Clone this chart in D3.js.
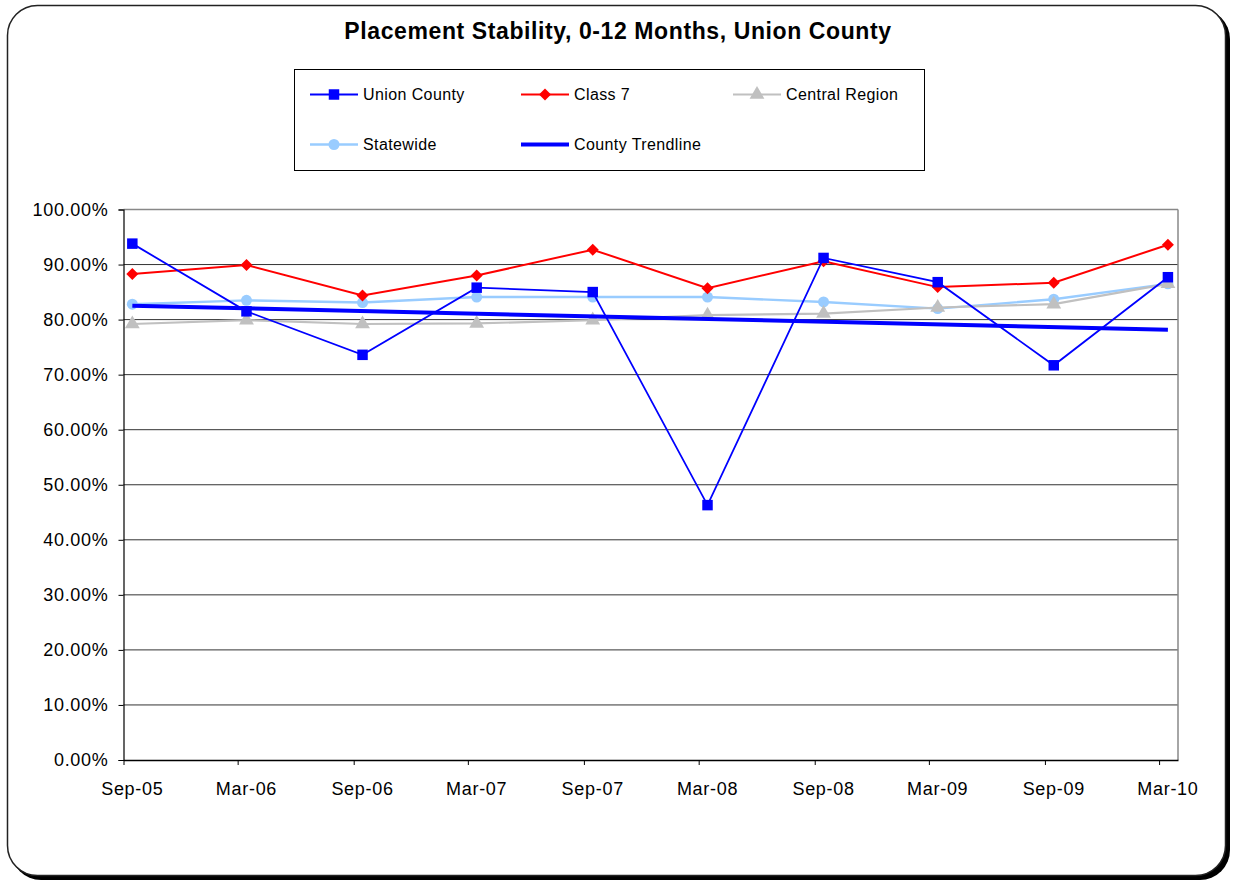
<!DOCTYPE html>
<html>
<head>
<meta charset="utf-8">
<script src="https://cdn.jsdelivr.net/npm/d3@7"></script>
<style>
  body { margin: 0; background: #fff; }
  text { font-family: "Liberation Sans", Arial, sans-serif; }
</style>
</head>
<body>
<div id="chart"></div>
<script>
// period labels and the dates Excel plotted them on (mid-month)
const periods = ["Sep-05", "Mar-06", "Sep-06", "Mar-07", "Sep-07", "Mar-08", "Sep-08", "Mar-09", "Sep-09", "Mar-10"];
const tickDates = ["2005-09-01", "2006-03-01", "2006-09-01", "2007-03-01", "2007-09-01", "2008-03-01", "2008-09-01", "2009-03-01", "2009-09-01", "2010-03-01"];
const pointDates = ["2005-09-15", "2006-03-15", "2006-09-15", "2007-03-15", "2007-09-15", "2008-03-15", "2008-09-15", "2009-03-15", "2009-09-15", "2010-03-15"];

const unionCounty = [93.8, 81.5, 73.6, 85.8, 85.0, 46.3, 91.2, 86.8, 71.7, 87.7];
const class7 = [88.3, 89.9, 84.4, 88.0, 92.7, 85.7, 90.6, 85.9, 86.7, 93.6];
const centralRegion = [79.2, 79.9, 79.2, 79.3, 79.9, 80.8, 81.1, 82.2, 82.8, 86.5];
const statewide = [82.8, 83.5, 83.1, 84.1, 84.1, 84.1, 83.2, 82.0, 83.7, 86.5];

const yTicks = [0, 10, 20, 30, 40, 50, 60, 70, 80, 90, 100];

const W = 1235, H = 882;
const plot = {left: 123.5, right: 1178, top: 209.5, bottom: 760};

const parse = d3.timeParse("%Y-%m-%d");
const pDates = pointDates.map(parse);

const svg = d3.select("#chart").append("svg")
    .attr("width", W)
    .attr("height", H);

// chart frame with a drop shadow on the right and bottom
svg.append("rect")
    .attr("x", 11).attr("y", 9)
    .attr("width", 1219).attr("height", 871)
    .attr("rx", 30)
    .attr("fill", "#000");
svg.append("rect")
    .attr("x", 7.5).attr("y", 5.5)
    .attr("width", 1218).attr("height", 870)
    .attr("rx", 30)
    .attr("fill", "#fff")
    .attr("stroke", "#222")
    .attr("stroke-width", 1.5);

svg.append("text")
    .attr("x", 618).attr("y", 39)
    .attr("text-anchor", "middle")
    .attr("font-size", 23)
    .attr("font-weight", "bold")
    .attr("letter-spacing", 0.6)
    .text("Placement Stability, 0-12 Months, Union County");

const x = d3.scaleTime()
    .domain([parse("2005-09-01"), parse("2010-03-31")])
    .range([plot.left, plot.right]);

const y = d3.scaleLinear()
    .domain([0, 100])
    .range([plot.bottom, plot.top]);

// gridlines
svg.append("g")
    .selectAll("line")
    .data(yTicks.filter(d => d > 0))
    .join("line")
        .attr("x1", plot.left).attr("x2", plot.right)
        .attr("y1", d => y(d)).attr("y2", d => y(d))
        .attr("stroke", d => d === 100 ? "#888" : "#333")
        .attr("stroke-width", d => d === 100 ? 1.5 : 1);

// right border of plot area
svg.append("line")
    .attr("x1", plot.right).attr("x2", plot.right)
    .attr("y1", plot.top).attr("y2", plot.bottom)
    .attr("stroke", "#888")
    .attr("stroke-width", 1.5);

// y axis
const yAxis = svg.append("g")
    .attr("transform", `translate(${plot.left},0)`)
    .call(d3.axisLeft(y)
        .tickValues(yTicks)
        .tickSize(5)
        .tickPadding(10)
        .tickFormat(d => d.toFixed(2) + "%"));
yAxis.select(".domain").attr("stroke", "#000").attr("stroke-width", 1.2);
yAxis.selectAll("text")
    .attr("font-size", 18)
    .attr("letter-spacing", 0.7)
    .attr("fill", "#000")
    .style("font-family", "'Liberation Sans', Arial, sans-serif");

// x axis: ticks on the month boundaries, labels under the points
const xAxis = svg.append("g")
    .attr("transform", `translate(0,${plot.bottom})`)
    .call(d3.axisBottom(x)
        .tickValues(tickDates.map(parse))
        .tickSize(5)
        .tickSizeOuter(0)
        .tickFormat(""));
xAxis.select(".domain").attr("stroke", "#000").attr("stroke-width", 1.5);

svg.append("g")
    .selectAll("text")
    .data(periods)
    .join("text")
        .attr("x", (d, i) => x(pDates[i]))
        .attr("y", 795)
        .attr("text-anchor", "middle")
        .attr("font-size", 18)
        .attr("letter-spacing", 0.7)
        .text(d => d);

// linear trendline for Union County
const n = unionCounty.length;
const xs = d3.range(n);
const mx = d3.mean(xs), my = d3.mean(unionCounty);
const slope = d3.sum(xs, i => (i - mx) * (unionCounty[i] - my)) / d3.sum(xs, i => (i - mx) ** 2);
const intercept = my - slope * mx;
const trend = [0, n - 1].map(i => ({date: pDates[i], v: intercept + slope * i}));

const line = d3.line()
    .x(d => x(d.date))
    .y(d => y(d.v));

const series = [
    {name: "Union County", values: unionCounty, color: "#0000ff", width: 1.8, marker: "square"},
    {name: "Class 7", values: class7, color: "#ff0000", width: 2, marker: "diamond"},
    {name: "Central Region", values: centralRegion, color: "#c0c0c0", width: 2.2, marker: "triangle"},
    {name: "Statewide", values: statewide, color: "#99ccff", width: 2.4, marker: "circle"}
];

const symbols = {
    square: d3.symbol(d3.symbolSquare, 110),
    diamond: d3.symbol(d3.symbolSquare, 72),
    triangle: d3.symbol(d3.symbolTriangle, 95),
    circle: d3.symbol(d3.symbolCircle, 95)
};
const rot = m => m === "diamond" ? " rotate(45)" : "";

function drawSeries(s) {
    const pts = s.values.map((v, i) => ({date: pDates[i], v: v}));
    const g = svg.append("g");
    g.append("path")
        .datum(pts)
        .attr("d", line)
        .attr("fill", "none")
        .attr("stroke", s.color)
        .attr("stroke-width", s.width);
    g.selectAll("path.m")
        .data(pts)
        .join("path")
            .attr("class", "m")
            .attr("transform", d => `translate(${x(d.date)},${y(d.v)})` + rot(s.marker))
            .attr("d", symbols[s.marker])
            .attr("fill", s.color);
}

// draw back to front like the original
["Statewide", "Central Region", "Class 7"].forEach(name => drawSeries(series.find(d => d.name === name)));

svg.append("path")
    .datum(trend)
    .attr("d", line)
    .attr("fill", "none")
    .attr("stroke", "#0000ff")
    .attr("stroke-width", 4);

drawSeries(series.find(d => d.name === "Union County"));

// legend
const legend = svg.append("g");
legend.append("rect")
    .attr("x", 294.5).attr("y", 69.5)
    .attr("width", 630).attr("height", 101)
    .attr("fill", "#fff")
    .attr("stroke", "#000")
    .attr("stroke-width", 1);

const legendItems = [
    {name: "Union County", color: "#0000ff", marker: "square", w: 1.8, col: 0, row: 0},
    {name: "Class 7", color: "#ff0000", marker: "diamond", w: 2, col: 1, row: 0},
    {name: "Central Region", color: "#c0c0c0", marker: "triangle", w: 2.2, col: 2, row: 0},
    {name: "Statewide", color: "#99ccff", marker: "circle", w: 2.4, col: 0, row: 1},
    {name: "County Trendline", color: "#0000ff", marker: null, w: 4, col: 1, row: 1}
];
const colX = [310, 521, 733];
const rowY = [94.5, 144.5];

const item = legend.selectAll("g.item")
    .data(legendItems)
    .join("g")
        .attr("class", "item")
        .attr("transform", d => `translate(${colX[d.col]},${rowY[d.row]})`);
item.append("line")
    .attr("x1", 0).attr("x2", 48)
    .attr("stroke", d => d.color)
    .attr("stroke-width", d => d.w);
item.filter(d => d.marker)
    .append("path")
    .attr("transform", d => "translate(24,0)" + rot(d.marker))
    .attr("d", d => symbols[d.marker]())
    .attr("fill", d => d.color);
item.append("text")
    .attr("x", 53)
    .attr("dy", "0.36em")
    .attr("font-size", 16)
    .attr("letter-spacing", 0.4)
    .text(d => d.name);
</script>
</body>
</html>
